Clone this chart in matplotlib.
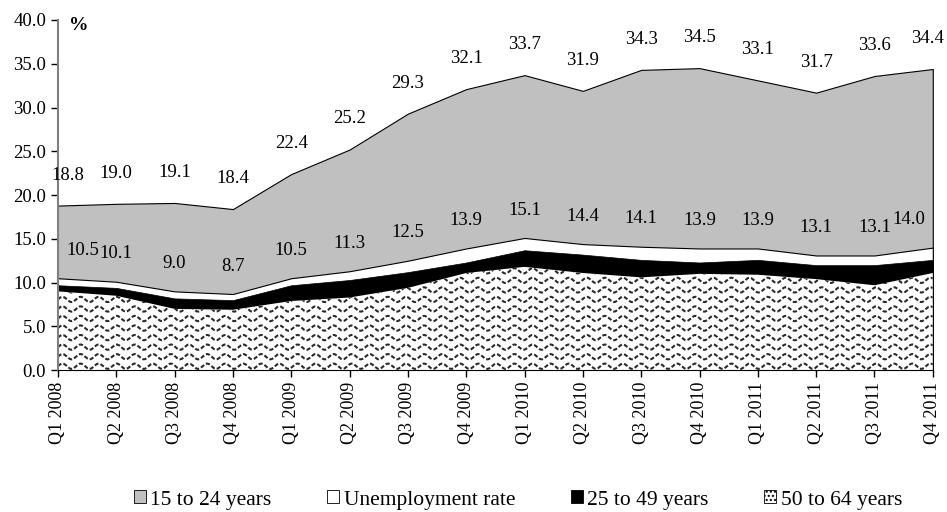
import numpy as np
import matplotlib
matplotlib.use("Agg")
import matplotlib.pyplot as plt
from matplotlib.patches import Patch

plt.rcParams['font.family'] = ['Liberation Serif', 'DejaVu Serif']

quarters = ["Q1 2008", "Q2 2008", "Q3 2008", "Q4 2008",
            "Q1 2009", "Q2 2009", "Q3 2009", "Q4 2009",
            "Q1 2010", "Q2 2010", "Q3 2010", "Q4 2010",
            "Q1 2011", "Q2 2011", "Q3 2011", "Q4 2011"]
age_15_24 = [18.8, 19.0, 19.1, 18.4, 22.4, 25.2, 29.3, 32.1,
             33.7, 31.9, 34.3, 34.5, 33.1, 31.7, 33.6, 34.4]
unemployment = [10.5, 10.1, 9.0, 8.7, 10.5, 11.3, 12.5, 13.9,
                15.1, 14.4, 14.1, 13.9, 13.9, 13.1, 13.1, 14.0]
age_25_49 = [9.7, 9.4, 8.2, 8.0, 9.7, 10.3, 11.2, 12.3,
             13.7, 13.2, 12.6, 12.3, 12.6, 12.0, 12.0, 12.6]
age_50_64 = [9.0, 8.5, 7.0, 6.9, 7.9, 8.3, 9.4, 11.1,
             11.8, 11.1, 10.6, 11.0, 10.9, 10.4, 9.7, 11.1]

x = np.arange(len(quarters))

fig = plt.figure(figsize=(9.47, 5.12), dpi=100)
ax = fig.add_axes([0.0612, 0.277, 0.9238, 0.684])

ax.fill_between(x, 0, age_15_24, facecolor="#c0c0c0", edgecolor="black", linewidth=0.8)
ax.fill_between(x, 0, unemployment, facecolor="white", edgecolor="black", linewidth=0.8)
ax.fill_between(x, 0, age_25_49, facecolor="black", edgecolor="black", linewidth=0.5)
old = ax.fill_between(x, 0, age_50_64, facecolor="white", edgecolor="none")

# wavy texture for the 50 to 64 area, clipped to its polygon
wx = np.linspace(0, 15, 2000)
for base in np.arange(0.45, 13, 1.09):
    wl, = ax.plot(wx, base + 0.3 * np.sin(wx * 2 * np.pi / 0.31),
                  color="#2a2a2a", lw=1.5, dashes=(2, 1))
    wl.set_clip_path(old.get_paths()[0], ax.transData)

# data labels
for i, v in enumerate(age_15_24):
    dx = 10 if i == 0 else (-5 if i == len(x) - 1 else 0)
    ax.annotate(f"{v:.1f}", (x[i], v), xytext=(dx * 0.72, 22), textcoords="offset points",
                ha="center", va="center", fontsize=13.5)
for i, v in enumerate(unemployment):
    dx = 25 if i == 0 else (-24 if i == len(x) - 1 else 0)
    ax.annotate(f"{v:.1f}", (x[i], v), xytext=(dx * 0.72, 20), textcoords="offset points",
                ha="center", va="center", fontsize=13.5)

ax.set_xlim(0, 15)
ax.set_ylim(0, 40)
ax.set_yticks(np.arange(0, 41, 5))
ax.set_yticklabels([f"{t:.1f}" for t in np.arange(0, 41, 5)], fontsize=13.5)
ax.set_xticks(x)
ax.set_xticklabels(quarters, rotation=90, fontsize=13)
ax.tick_params(axis="both", direction="out", length=5, width=1)
for s in ["top", "right"]:
    ax.spines[s].set_visible(False)
ax.spines["left"].set_color("#808080")
ax.spines["left"].set_linewidth(1.5)
ax.spines["bottom"].set_color("black")

ax.text(0.013, 0.985, "%", transform=ax.transAxes, fontsize=14, fontweight="bold",
        ha="left", va="center")

handles = [Patch(facecolor="#c0c0c0", edgecolor="black", lw=0.6),
           Patch(facecolor="white", edgecolor="black", lw=0.6),
           Patch(facecolor="black", edgecolor="black", lw=0.6),
           Patch(facecolor="white", edgecolor="black", hatch="....", lw=0.6)]
labels = ["15 to 24 years", "Unemployment rate", "25 to 49 years", "50 to 64 years"]
fig.legend(handles, labels, loc="center", bbox_to_anchor=(0.547, 1 - 500 / 512), ncol=4,
           frameon=False, fontsize=15.5, handlelength=0.55, handleheight=0.55,
           handletextpad=0.2, columnspacing=2.6)

fig.savefig("out.png", dpi=100)
